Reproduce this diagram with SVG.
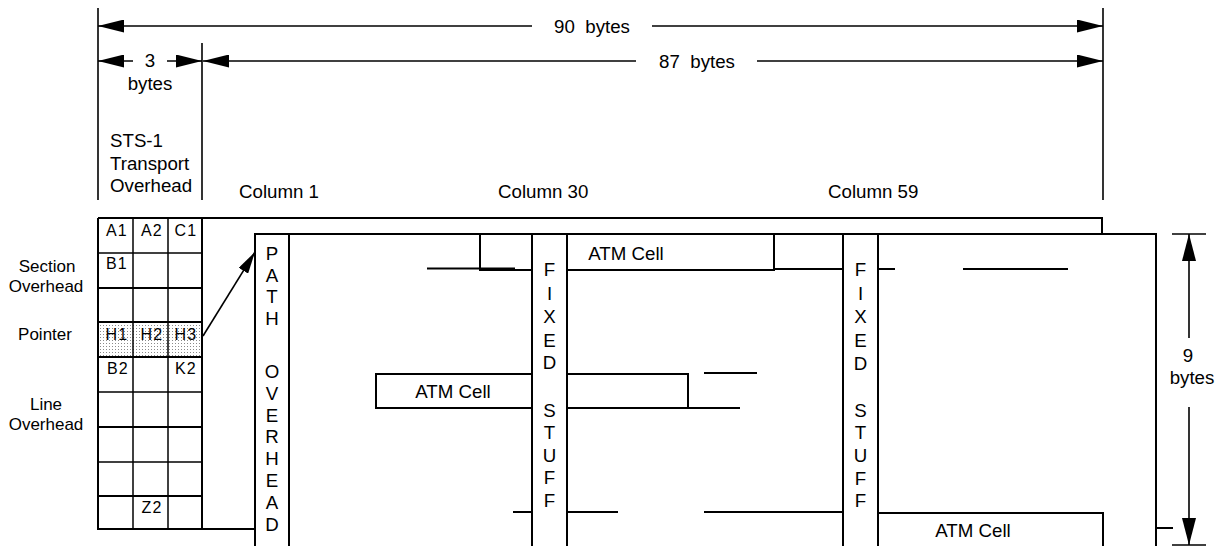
<svg xmlns="http://www.w3.org/2000/svg" width="1220" height="546" viewBox="0 0 1220 546">
<defs>
<style>
text{font-family:"Liberation Sans",Arial,sans-serif;fill:#000}
.lb{font-size:18.7px}
.sl{font-size:17px;text-anchor:middle}
.cl{font-size:16px;text-anchor:middle;letter-spacing:1.2px}
.vl{font-size:18.7px;text-anchor:middle}
.mid{text-anchor:middle}
.s{stroke:#000;stroke-width:2;fill:none}
.t{stroke:#000;stroke-width:1.5;fill:none}
.d{stroke:#000;stroke-width:1.6;fill:none}
</style>
<marker id="ah" markerUnits="userSpaceOnUse" markerWidth="26" markerHeight="13" refX="26" refY="6.5" orient="auto" viewBox="0 0 26 13">
<path d="M0,0 L26,6.5 L0,13 Z" fill="#000"/>
</marker>
<marker id="ahv" markerUnits="userSpaceOnUse" markerWidth="27" markerHeight="14" refX="27" refY="7" orient="auto" viewBox="0 0 27 14">
<path d="M0,0 L27,7 L0,14 Z" fill="#000"/>
</marker>
<marker id="ahs" markerUnits="userSpaceOnUse" markerWidth="22" markerHeight="11" refX="22" refY="5.5" orient="auto" viewBox="0 0 22 11">
<path d="M0,0 L22,5.5 L0,11 Z" fill="#000"/>
</marker>
<pattern id="dots" width="3" height="3" patternUnits="userSpaceOnUse">
<rect x="1" y="1" width="1" height="1" fill="#8a8a8a"/>
</pattern>
</defs>
<rect width="1220" height="546" fill="#fff"/>

<g id="dimensions">
<line class="d" x1="98" y1="8" x2="98" y2="200"/>
<line class="d" x1="202" y1="43" x2="202" y2="200"/>
<line class="d" x1="1103" y1="8" x2="1103" y2="200"/>
<line class="d" x1="532" y1="26" x2="98" y2="26" marker-end="url(#ah)"/>
<line class="d" x1="652" y1="26" x2="1103" y2="26" marker-end="url(#ah)"/>
<text class="lb mid" x="592" y="33" xml:space="preserve">90  bytes</text>
<line class="d" x1="133" y1="61" x2="98" y2="61" marker-end="url(#ah)"/>
<line class="d" x1="167" y1="61" x2="202" y2="61" marker-end="url(#ah)"/>
<text class="lb mid" x="150" y="67">3</text>
<text class="lb mid" x="150" y="90">bytes</text>
<line class="d" x1="636" y1="61" x2="203" y2="61" marker-end="url(#ah)"/>
<line class="d" x1="757" y1="61" x2="1103" y2="61" marker-end="url(#ah)"/>
<text class="lb mid" x="697" y="68" xml:space="preserve">87  bytes</text>
<text class="lb" x="110" y="147">STS-1</text>
<text class="lb" x="110" y="170">Transport</text>
<text class="lb" x="110" y="192">Overhead</text>
<text class="lb" x="239" y="198">Column 1</text>
<text class="lb" x="498" y="198">Column 30</text>
<text class="lb" x="828" y="198">Column 59</text>
<line class="t" x1="1172" y1="234" x2="1206" y2="234"/>
<line class="t" x1="1172" y1="545" x2="1206" y2="545"/>
<line class="d" x1="1189" y1="338" x2="1189" y2="234" marker-end="url(#ahv)"/>
<line class="d" x1="1189" y1="407" x2="1189" y2="545" marker-end="url(#ahv)"/>
<text class="lb mid" x="1188" y="362">9</text>
<text class="lb mid" x="1192" y="384">bytes</text>
</g>

<g id="left-labels">
<text class="sl" x="47" y="272">Section</text>
<text class="sl" x="46" y="292">Overhead</text>
<text class="sl" x="45" y="340">Pointer</text>
<text class="sl" x="46" y="410">Line</text>
<text class="sl" x="46" y="430">Overhead</text>
</g>

<g id="transport-overhead">
<rect x="98" y="322" width="104" height="35" fill="url(#dots)"/>
<line class="t" x1="98" y1="253" x2="202" y2="253"/>
<line class="s" x1="98" y1="288" x2="202" y2="288"/>
<line class="s" x1="98" y1="322" x2="202" y2="322"/>
<line class="s" x1="98" y1="357" x2="202" y2="357"/>
<line class="t" x1="98" y1="392" x2="202" y2="392"/>
<line class="s" x1="98" y1="427" x2="202" y2="427"/>
<line class="t" x1="98" y1="462" x2="202" y2="462"/>
<line class="s" x1="98" y1="496" x2="202" y2="496"/>
<line class="s" x1="98" y1="529" x2="255" y2="529"/>
<line class="s" x1="98" y1="218" x2="98" y2="530"/>
<line class="t" x1="133" y1="218" x2="133" y2="530"/>
<line class="t" x1="168" y1="218" x2="168" y2="530"/>
<line class="s" x1="202" y1="218" x2="202" y2="530"/>
<text class="cl" x="117" y="236">A1</text>
<text class="cl" x="152" y="236">A2</text>
<text class="cl" x="186" y="236">C1</text>
<text class="cl" x="117" y="269">B1</text>
<text class="cl" x="117" y="340">H1</text>
<text class="cl" x="152" y="340">H2</text>
<text class="cl" x="186" y="340">H3</text>
<text class="cl" x="118" y="374">B2</text>
<text class="cl" x="186" y="374">K2</text>
<text class="cl" x="152" y="513">Z2</text>
</g>

<g id="sts1-frame">
<polyline class="s" points="98,218 1102,218 1102,234"/>
</g>

<g id="spe">
<polyline class="s" points="255,546 255,234 1156,234 1156,546"/>
</g>

<g id="path-overhead">
<line class="s" x1="289" y1="233" x2="289" y2="546"/>
<text class="vl"><tspan x="272" y="260">P</tspan><tspan x="272" y="282">A</tspan><tspan x="272" y="303">T</tspan><tspan x="272" y="325">H</tspan><tspan x="272" y="378">O</tspan><tspan x="272" y="400">V</tspan><tspan x="272" y="422">E</tspan><tspan x="272" y="443">R</tspan><tspan x="272" y="465">H</tspan><tspan x="272" y="487">E</tspan><tspan x="272" y="509">A</tspan><tspan x="272" y="531">D</tspan></text>
</g>

<g id="fixed-stuff-30">
<line class="s" x1="532" y1="234" x2="532" y2="546"/>
<line class="s" x1="567" y1="234" x2="567" y2="546"/>
<text class="vl"><tspan x="549.5" y="276">F</tspan><tspan x="549.5" y="300">I</tspan><tspan x="549.5" y="323">X</tspan><tspan x="549.5" y="347">E</tspan><tspan x="549.5" y="369">D</tspan><tspan x="549.5" y="417">S</tspan><tspan x="549.5" y="439">T</tspan><tspan x="549.5" y="462">U</tspan><tspan x="549.5" y="484">F</tspan><tspan x="549.5" y="507">F</tspan></text>
</g>

<g id="fixed-stuff-59">
<line class="s" x1="843" y1="234" x2="843" y2="546"/>
<line class="s" x1="878" y1="234" x2="878" y2="546"/>
<text class="vl"><tspan x="860.5" y="276">F</tspan><tspan x="860.5" y="300">I</tspan><tspan x="860.5" y="323">X</tspan><tspan x="860.5" y="347">E</tspan><tspan x="860.5" y="370">D</tspan><tspan x="860.5" y="417">S</tspan><tspan x="860.5" y="439">T</tspan><tspan x="860.5" y="462">U</tspan><tspan x="860.5" y="485">F</tspan><tspan x="860.5" y="507">F</tspan></text>
</g>

<g id="atm-cell-wrap">
<line class="s" x1="427" y1="268.5" x2="515" y2="268.5"/>
<polyline class="s" points="480,234 480,270 532,270"/>
</g>

<g id="atm-cell-1">
<polyline class="s" points="567,270 774,270 774,234"/>
<line class="s" x1="774" y1="269" x2="843" y2="269"/>
<text class="lb mid" x="626" y="260">ATM Cell</text>
</g>

<g id="atm-cell-row1-right">
<line class="s" x1="878" y1="269" x2="895" y2="269"/>
<line class="s" x1="963" y1="269" x2="1068" y2="269"/>
</g>

<g id="atm-cell-2">
<polyline class="s" points="532,374 376,374 376,408 532,408"/>
<polyline class="s" points="567,374 688,374 688,408 567,408"/>
<line class="s" x1="688" y1="408" x2="740" y2="408"/>
<line class="s" x1="704" y1="373" x2="757" y2="373"/>
<text class="lb mid" x="453" y="398">ATM Cell</text>
</g>

<g id="atm-cell-row8">
<line class="s" x1="513" y1="512" x2="532" y2="512"/>
<line class="s" x1="567" y1="512" x2="618" y2="512"/>
<line class="s" x1="704" y1="512" x2="843" y2="512"/>
</g>

<g id="atm-cell-3">
<polyline class="s" points="878,546 878,513 1103,513 1103,546"/>
<line class="s" x1="1156" y1="528" x2="1173" y2="528"/>
<text class="lb mid" x="973" y="537">ATM Cell</text>
</g>

<g id="connectors">
<line class="d" x1="203" y1="336" x2="255" y2="252" marker-end="url(#ahs)"/>
</g>
</svg>
